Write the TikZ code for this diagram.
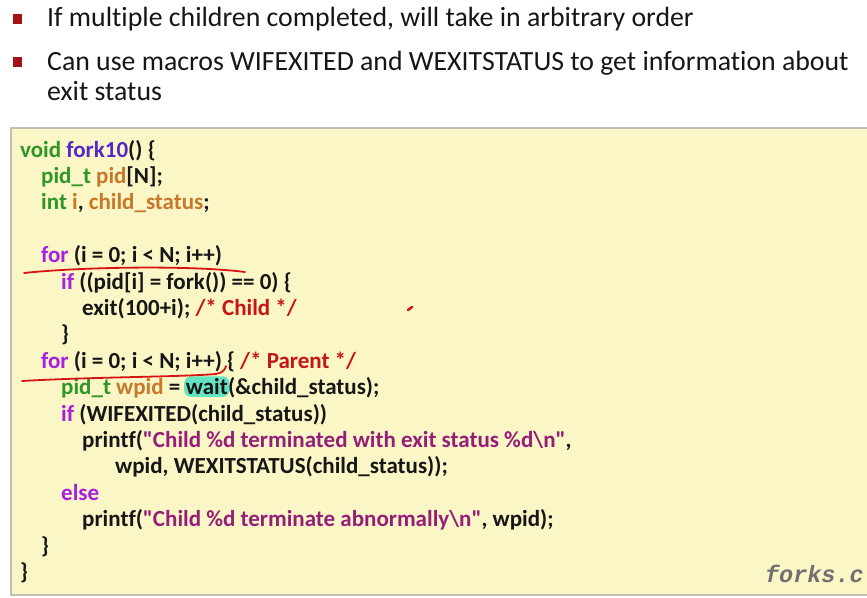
\documentclass[tikz,border=0pt]{standalone}
\usepackage{fontspec}
\setmainfont{Carlito}[Ligatures={TeXOff,NoCommon}]
\newfontfamily\monof{Liberation Mono}
\usetikzlibrary{backgrounds,fit}
\definecolor{boxfill}{RGB}{250,246,198}
\definecolor{boxline}{RGB}{192,192,178}
\definecolor{ink}{RGB}{22,22,22}
\definecolor{bulred}{RGB}{165,18,22}
\definecolor{cty}{RGB}{48,150,40}
\definecolor{cfn}{RGB}{85,40,205}
\definecolor{cva}{RGB}{200,120,40}
\definecolor{ckw}{RGB}{170,30,225}
\definecolor{ccm}{RGB}{200,20,20}
\definecolor{cst}{RGB}{150,30,120}
\definecolor{hl}{RGB}{100,228,195}
\definecolor{pen}{RGB}{215,20,20}
\definecolor{fgray}{RGB}{112,112,112}
\newcommand{\kw}[1]{\textcolor{ckw}{#1}}
\newcommand{\ty}[1]{\textcolor{cty}{#1}}
\newcommand{\va}[1]{\textcolor{cva}{#1}}
\newcommand{\cm}[1]{\textcolor{ccm}{#1}}
\newcommand{\st}[1]{\textcolor{cst}{#1}}
\newcommand{\fn}[1]{\textcolor{cfn}{#1}}
\newcommand{\qq}{\symbol{34}}
\begin{document}
\begin{tikzpicture}[x=1pt,y=-1pt,
  code/.style={anchor=base west, inner sep=0pt, text=ink, font=\fontsize{23}{24}\selectfont\bfseries},
  btext/.style={anchor=base west, inner sep=0pt, text=ink, font=\fontsize{27.8}{30}\selectfont},
  bsq/.style={fill=bulred, inner sep=0pt, minimum size=9.5pt},
  stroke/.style={draw=pen, line width=1.8pt, line cap=round}]
\useasboundingbox (0,0) rectangle (867,597);
\clip (0,0) rectangle (867,597);
\begin{scope}[on background layer]
\fill[white] (0,0) rectangle (867,597);
\draw[draw=boxline, fill=boxfill, line width=1.5pt] (11,128) rectangle (885,595);
\end{scope}
% bullets
\node[bsq] (b1) at (17.5,19) {};
\node[bsq] (b2) at (17.5,62) {};
\node[btext] (t1) at (47,27) {If multiple children completed, will take in arbitrary order};
\node[btext] (t2) at (47,70) {Can use macros WIFEXITED and WEXITSTATUS to get information about};
\node[btext] (t3) at (47,100) {exit status};
% code
\node[code] (l1) at (20,157) {\ty{void} \fn{fork10}() \{};
\node[code] (l2) at (41,183.4) {\ty{pid\_t} \va{pid}[N];};
\node[code] (l3) at (41,209.8) {\ty{int} \va{i}, \va{child\_status};};
\node[code] (l5) at (41,262.6) {\kw{for} (i = 0; i < N; i++)};
\node[code] (l6) at (61,289) {\kw{if} ((pid[i] = fork()) == 0) \{};
\node[code] (l7) at (82,315.4) {exit(100+i); \cm{/* Child */}};
\node[code] (l8) at (61,341.8) {\}};
\node[code] (l9) at (41,368.2) {\kw{for} (i = 0; i < N; i++) \{ \cm{/* Parent */}};
\node[code] (l10a) at (61,394.6) {\ty{pid\_t} \va{wpid} = \mbox{}};
\node[code] (wait) at (l10a.base east) {wait};
\node[code] (l10b) at (wait.base east) {(\&child\_status);};
\node[code] (l11) at (61,421) {\kw{if} (WIFEXITED(child\_status))};
\node[code] (l12) at (82,447.4) {printf(\st{\qq Child \%d terminated with exit status \%d\textbackslash n\qq},};
\node[code] (l13) at (115,473.8) {wpid, WEXITSTATUS(child\_status));};
\node[code] (l14) at (61,500.2) {\kw{else}};
\node[code] (l15) at (82,526.6) {printf(\st{\qq Child \%d terminate abnormally\textbackslash n\qq}, wpid);};
\node[code] (l16) at (41,553) {\}};
\node[code] (l17) at (20,579.4) {\}};
\node[anchor=base east, inner sep=0pt, text=fgray, font=\monof\bfseries\itshape\fontsize{23.5}{24}\selectfont] (fc) at (864,582) {forks.c};
% highlight behind wait
\begin{scope}[on background layer]
\node[fill=hl, rounded corners=7pt, inner xsep=1.5pt, inner ysep=2pt, fit=(wait)] (whl) {};
\end{scope}
% hand-drawn marks
\draw[stroke] (24,273) .. controls (80,267) and (190,265) .. (245,272);
\draw[stroke] (22,381) .. controls (90,377) and (180,377) .. (216,374) .. controls (222,373) and (225,370) .. (226,366);
\draw[draw=pen, line width=2.5pt, line cap=round] (408,310) -- (412,307);
\end{tikzpicture}
\end{document}
